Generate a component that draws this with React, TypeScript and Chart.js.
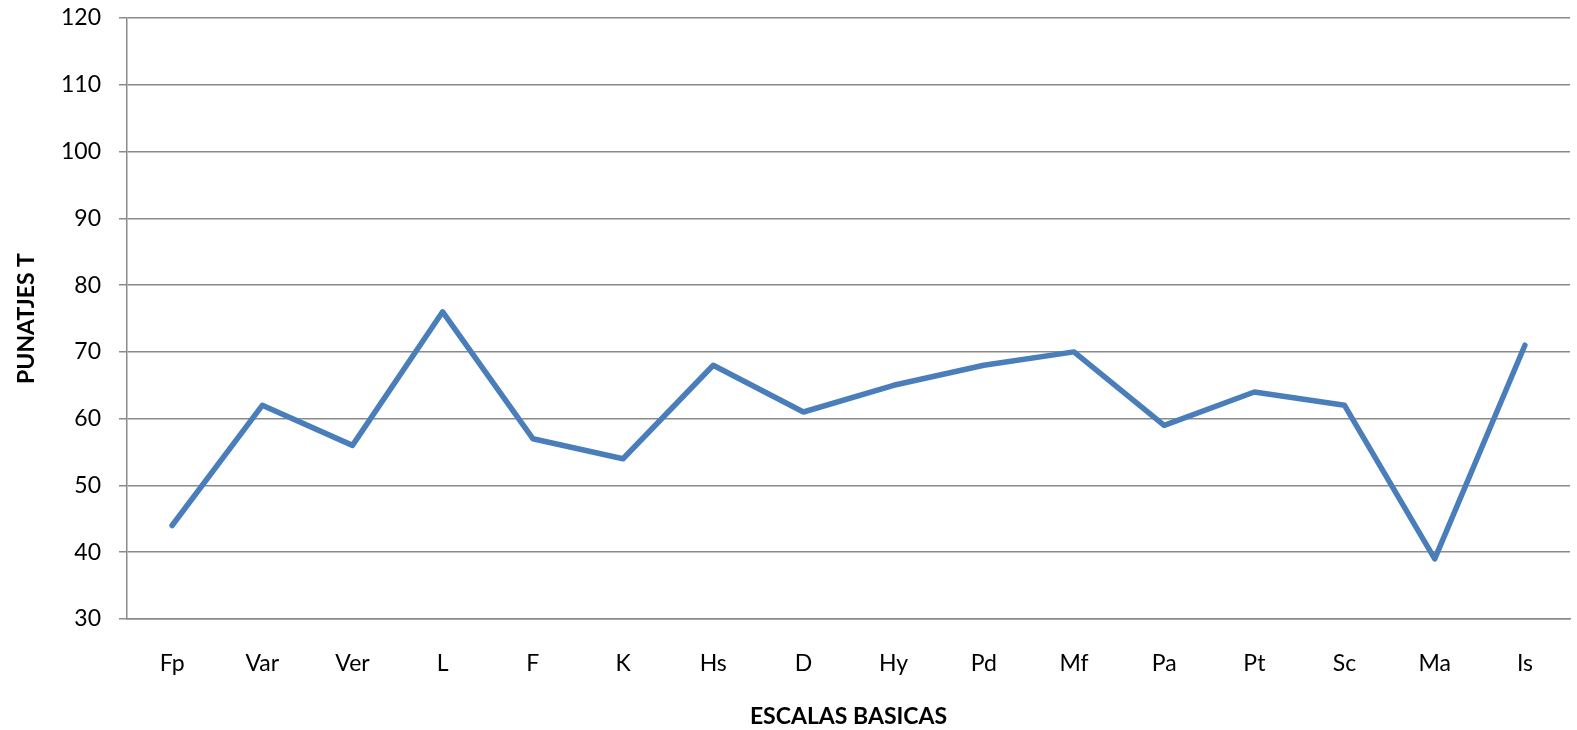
import React, { useEffect, useRef } from "react";
import { Chart, registerables } from "chart.js";

Chart.register(...registerables);

const categories = ["Fp", "Var", "Ver", "L", "F", "K", "Hs", "D", "Hy", "Pd", "Mf", "Pa", "Pt", "Sc", "Ma", "Is"];
const puntajes = [44, 62, 56, 76, 57, 54, 68, 61, 65, 68, 70, 59, 64, 62, 39, 71];
const yMin = 30;
const yMax = 120;
const yStep = 10;
const yTitle = "PUNATJES T";
const xTitle = "ESCALAS BASICAS";

const FONT = "Lato, 'Open Sans', sans-serif";
const GRID = "#8a8a8a";

export default function App() {
  const ref = useRef<HTMLCanvasElement | null>(null);
  useEffect(() => {
    if (!ref.current) return;
    const chart = new Chart(ref.current, {
      type: "line",
      data: {
        labels: categories,
        datasets: [
          {
            data: puntajes,
            borderColor: "#4a7ebb",
            borderWidth: 5.5,
            pointRadius: 0,
            pointHoverRadius: 0,
            tension: 0,
            borderCapStyle: "round",
            borderJoinStyle: "round",
            fill: false,
          },
        ],
      },
      options: {
        animation: false,
        responsive: false,
        maintainAspectRatio: false,
        devicePixelRatio: 1,
        layout: { padding: { top: 18, right: 7, bottom: 0, left: 0 } },
        plugins: { legend: { display: false }, tooltip: { enabled: false } },
        scales: {
          x: {
            type: "category",
            offset: true,
            grid: { display: false, drawTicks: false },
            border: { display: true, color: GRID, width: 1.5 },
            ticks: { color: "#000", font: { family: FONT, size: 23 }, padding: 31, maxRotation: 0, autoSkip: false },
            title: {
              display: true,
              text: xTitle,
              color: "#000",
              font: { family: FONT, size: 23, weight: "bold" },
              padding: { top: 0, bottom: 0 },
            },
            afterFit: (s: any) => {
              s.height = 111;
              s.paddingLeft = 0;
              s.paddingRight = 0;
            },
          },
          y: {
            min: yMin,
            max: yMax,
            grid: { color: GRID, lineWidth: 1.5, tickLength: 8, drawTicks: true },
            border: { display: true, color: GRID, width: 1.5 },
            ticks: { stepSize: yStep, color: "#000", font: { family: FONT, size: 23 }, padding: 18 },
            title: {
              display: true,
              text: yTitle,
              color: "#000",
              font: { family: FONT, size: 23, weight: "bold" },
              padding: { top: 13, bottom: 0 },
            },
            afterFit: (s: any) => {
              s.width = 127;
              s.paddingTop = 0;
              s.paddingBottom = 0;
            },
          },
        },
      },
    });
    return () => chart.destroy();
  }, []);
  return (
    <div style={{ position: "absolute", left: 0, top: 0, width: 1577, height: 730, background: "#fff" }}>
      <canvas ref={ref} width={1577} height={730} style={{ width: 1577, height: 730, display: "block" }} />
    </div>
  );
}
